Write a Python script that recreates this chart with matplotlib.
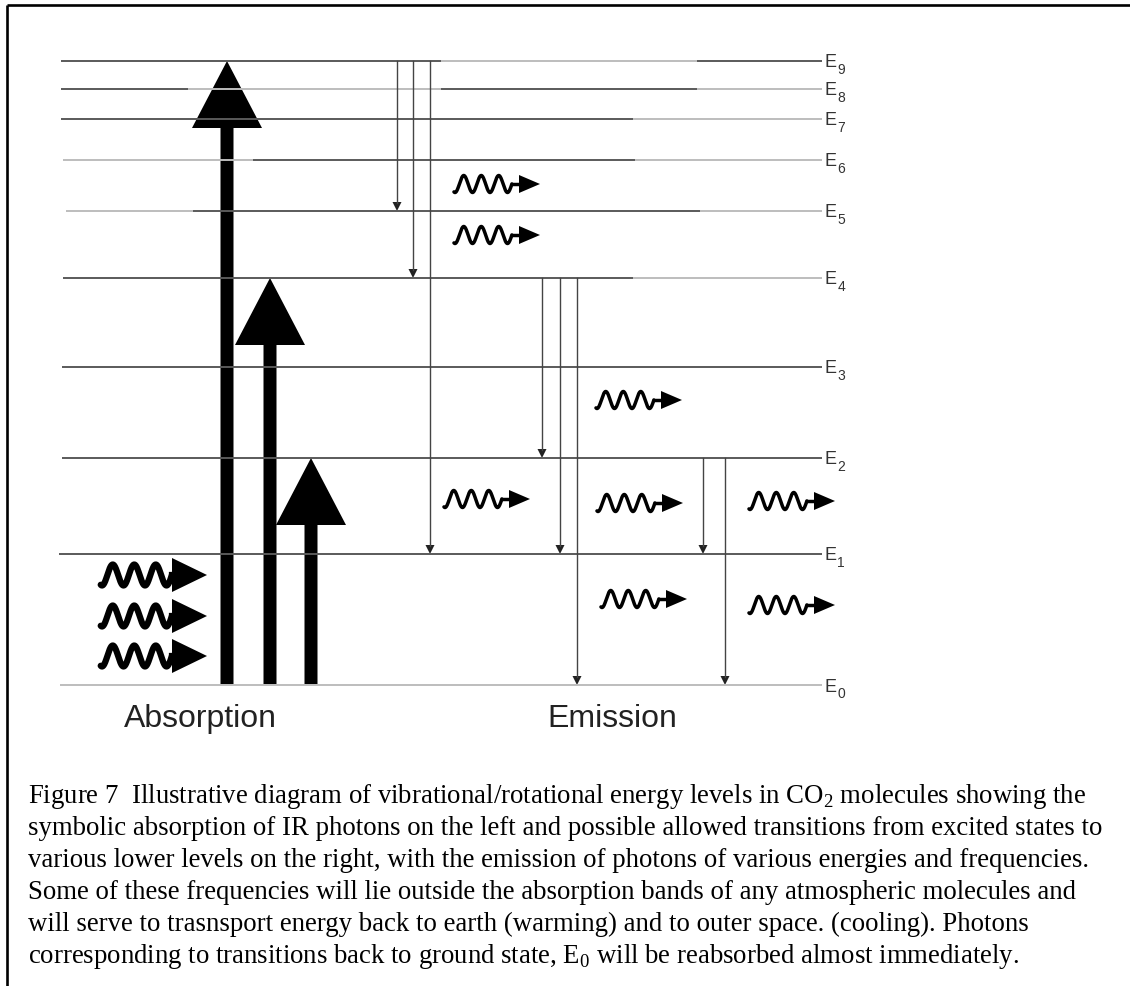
import numpy as np
import matplotlib
matplotlib.use("Agg")
import matplotlib.pyplot as plt
from matplotlib.patches import FancyArrow

plt.rcParams['mathtext.fontset'] = 'custom'
plt.rcParams['mathtext.rm'] = 'Liberation Serif'

# energy levels, height above the ground state (pixels of the original drawing)
level_names = ["0", "1", "2", "3", "4", "5", "6", "7", "8", "9"]
level_energy = [0, 131, 227, 318, 407, 474, 525, 566, 596, 624]
level_start = [60, 59, 62, 62, 63, 66, 63, 61, 61, 61]

# absorption: three photons lift E0 to E9, E4, E2
abs_x = [227, 270, 311]
abs_to = [9, 4, 2]

# emission: allowed downward transitions
emi_x = [397, 413, 430, 542, 560, 577, 703, 725]
emi_from = [9, 9, 9, 4, 4, 4, 2, 2]
emi_to = [5, 4, 1, 2, 1, 0, 1, 0]

# emitted photons (left x, energy of centre line)
small_ph_x = [455, 455, 597, 445, 598, 750, 602, 750]
small_ph_y = [501, 450, 285, 186, 182, 184, 86, 80]
# incoming photons
big_ph_x = [102, 102, 102]
big_ph_y = [110, 69, 29]

caption = [
    "Figure 7  Illustrative diagram of vibrational/rotational energy levels in CO$_\\mathrm{2}$ molecules showing the",
    "symbolic absorption of IR photons on the left and possible allowed transitions from excited states to",
    "various lower levels on the right, with the emission of photons of various energies and frequencies.",
    "Some of these frequencies will lie outside the absorption bands of any atmospheric molecules and",
    "will serve to trasnsport energy back to earth (warming) and to outer space. (cooling). Photons",
    "corresponding to transitions back to ground state, E$_\\mathrm{0}$ will be reabsorbed almost immediately.",
]

W, H = 1130, 987
Y0 = 686  # pixel row of E0


def py(y_px):
    return Y0 - y_px


fig = plt.figure(figsize=(W / 100, H / 100), dpi=100)
ax = fig.add_axes([0, 0, 1, 1])
ax.set_xlim(0, W)
ax.set_ylim(py(H), py(0))
ax.axis('off')

# frame (top and left only)
ax.plot([7, W], [py(6), py(6)], color='black', lw=1.9, solid_capstyle='butt')
ax.plot([7, 7], [py(6), py(H)], color='black', lw=1.9, solid_capstyle='butt')

# level lines, drawn in alternating grey pieces like the scanned original
dark, light = '#5a5a5a', '#bdbdbd'
shading = {
    9: [(441, light), (697, dark)],
    8: [(188, light), (441, dark), (697, light)],
    7: [(633, light)],
    6: [(253, dark), (635, light)],
    5: [(193, dark), (700, light)],
    4: [(633, light)],
}
first_shade = {0: light, 5: light, 6: light}
x_end = 822
for i, e in enumerate(level_energy):
    pieces = [(level_start[i], first_shade.get(i, dark))] + shading.get(i, [])
    for k, (xa, c) in enumerate(pieces):
        xb = pieces[k + 1][0] if k + 1 < len(pieces) else x_end
        ax.plot([xa, xb], [e, e], color=c, lw=1.4, solid_capstyle='butt')
    ax.text(825, e - 1, "E", fontsize=13, family='Liberation Sans',
            color='#333333', ha='left', va='center')
    ax.text(837.5, e - 8, level_names[i], fontsize=10, family='Liberation Sans',
            color='#333333', ha='left', va='center')

# absorption arrows
for x, lv in zip(abs_x, abs_to):
    ystart = level_energy[0] + 1
    ax.add_patch(FancyArrow(x, ystart, 0, level_energy[lv] - ystart, width=13,
                            head_width=70, head_length=67,
                            length_includes_head=True, color='black', lw=0))

# emission arrows
for x, a, b in zip(emi_x, emi_from, emi_to):
    ya, yb = level_energy[a], level_energy[b]
    ax.plot([x, x], [ya, yb + 8], color='#444444', lw=1.0)
    ax.fill([x - 4.5, x + 4.5, x], [yb + 9, yb + 9, yb], color='#222222', lw=0)


def photon(x0, y0, period, amp, lw, head_base, head_len, head_h):
    t = np.linspace(-0.06, 3.25, 300)
    xs = x0 + t * period
    ys = y0 - amp * np.cos(2 * np.pi * t)
    ax.plot(xs, ys, color='black', lw=lw, solid_capstyle='round',
            solid_joinstyle='round')
    xt = x0 + 3.25 * period
    ax.plot([xt, x0 + head_base + 1], [y0, y0], color='black', lw=lw)
    xb = x0 + head_base
    ax.fill([xb, xb, xb + head_len], [y0 + head_h / 2, y0 - head_h / 2, y0],
            color='black', lw=0)


for x, y in zip(small_ph_x, small_ph_y):
    photon(x, y, 17.5, 8.5, 2.5, 64, 21, 18)

for x, y in zip(big_ph_x, big_ph_y):
    photon(x, y, 21.5, 10.5, 4.5, 70, 35, 34)

ax.text(200, py(719), "Absorption", fontsize=23, family='Liberation Sans',
        color='#222222', ha='center', va='center')
ax.text(612, py(719), "Emission", fontsize=23, family='Liberation Sans',
        color='#222222', ha='center', va='center')

for k, line in enumerate(caption):
    ax.text(28, py(803 + 32 * k), line, fontsize=19.3,
            family='Liberation Serif', color='black', ha='left', va='baseline')

fig.savefig("out.png", dpi=100)
